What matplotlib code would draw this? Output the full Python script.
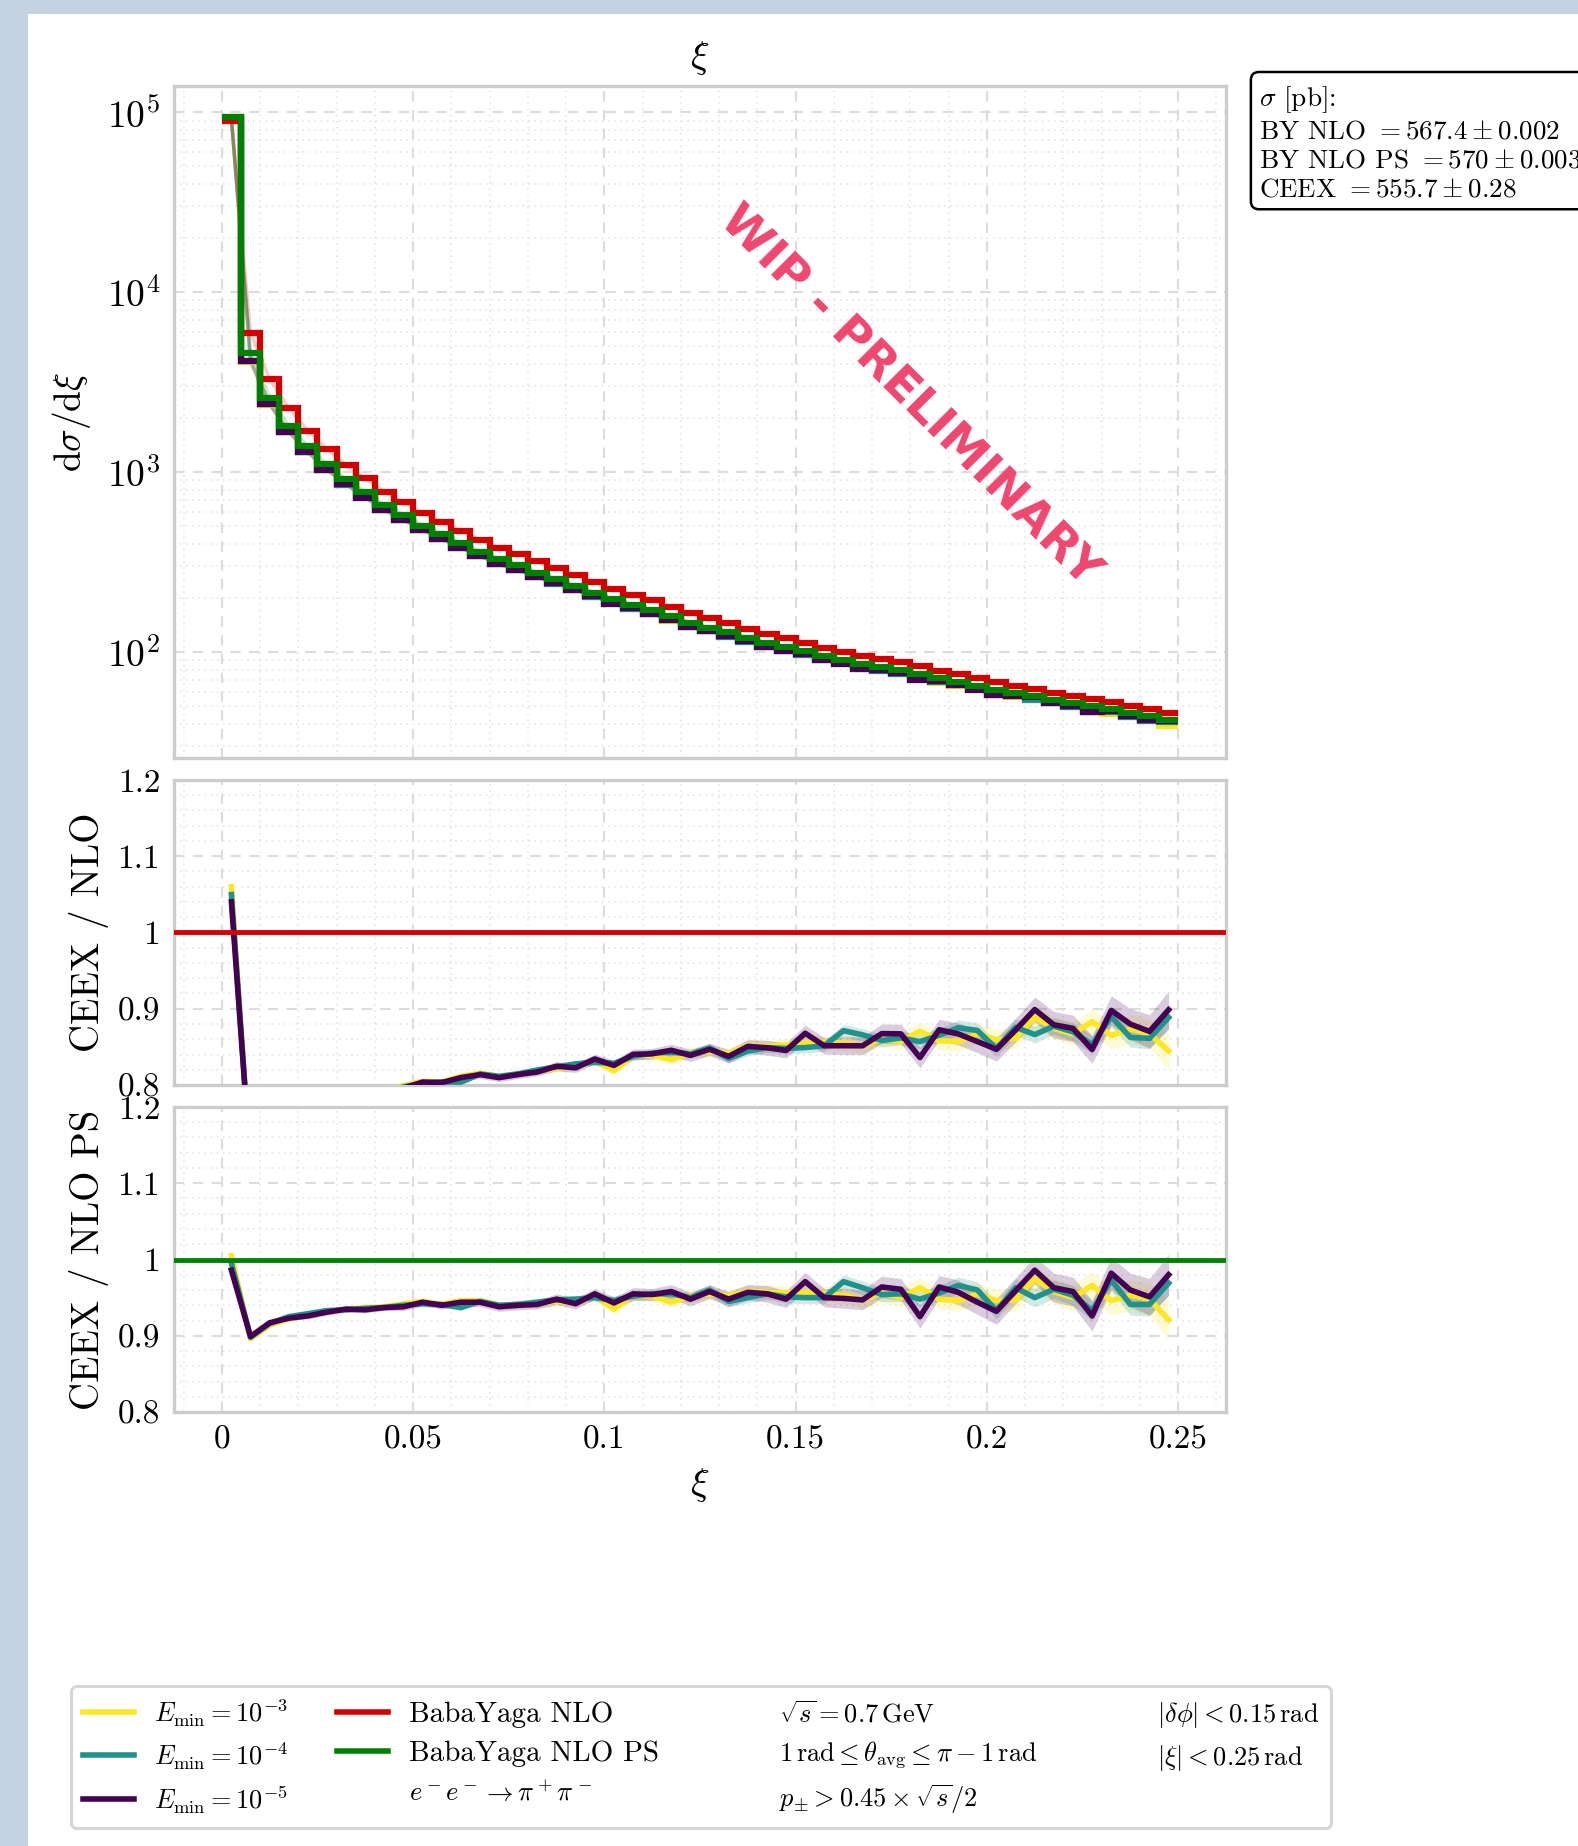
import numpy as np
import matplotlib
matplotlib.use("Agg")
import matplotlib.pyplot as plt
from matplotlib.lines import Line2D
from matplotlib.patches import Rectangle
from matplotlib.ticker import MultipleLocator, FuncFormatter, LogLocator, NullFormatter

plt.rcParams['font.family'] = 'serif'
plt.rcParams['font.serif'] = ['cmr10', 'DejaVu Serif']
plt.rcParams['mathtext.fontset'] = 'cm'
plt.rcParams['axes.formatter.use_mathtext'] = True

# ---------------------------------------------------------------- data
xi_edges = np.linspace(0.0, 0.25, 51)          # 50 bins of width 0.005
xi_centers = 0.5 * (xi_edges[:-1] + xi_edges[1:])

# dsigma/dxi [pb] for the BabaYaga references
dsig_nlo = [89100, 5950, 3300, 2270, 1703, 1343, 1099, 924, 779, 680,
            593, 529, 471, 420, 380, 350, 319, 292, 268, 245,
            225, 208, 194, 179, 165, 155, 146, 135, 126, 120,
            113, 106, 100.3, 95.1, 91.8, 88.0, 83.2, 79.0, 75.5, 71.6,
            67.8, 65.1, 62.3, 59.6, 57.2, 54.8, 52.5, 50.3, 48.3, 45.8]
dsig_nlo_ps = [94000, 4600, 2600, 1815, 1390, 1107, 914, 774, 657, 577,
               505, 452, 404, 362, 328, 303, 277, 254, 234, 214,
               197, 183, 171, 158, 146, 137, 129, 120, 112, 107,
               101, 95, 90, 85.5, 82.6, 79.4, 75.2, 71.5, 68.4, 65.0,
               61.6, 59.2, 56.8, 54.4, 52.2, 50.1, 48.0, 46.1, 44.2, 42.0]

# CEEX / BabaYaga NLO PS for the three soft-photon cut-offs
ratio_ps_e3 = [1.005, 0.896, 0.914, 0.922, 0.927, 0.932, 0.934, 0.937, 0.938, 0.942,
               0.945, 0.941, 0.946, 0.946, 0.940, 0.941, 0.943, 0.945, 0.944, 0.952,
               0.935, 0.953, 0.952, 0.944, 0.952, 0.955, 0.952, 0.958, 0.957, 0.956,
               0.957, 0.955, 0.953, 0.947, 0.956, 0.950, 0.963, 0.948, 0.946, 0.955,
               0.946, 0.947, 0.975, 0.958, 0.950, 0.966, 0.946, 0.953, 0.948, 0.921]
ratio_ps_e4 = [0.995, 0.898, 0.916, 0.925, 0.929, 0.933, 0.934, 0.936, 0.937, 0.940,
               0.942, 0.941, 0.937, 0.945, 0.940, 0.941, 0.944, 0.947, 0.948, 0.950,
               0.946, 0.952, 0.955, 0.955, 0.950, 0.960, 0.945, 0.950, 0.955, 0.951,
               0.950, 0.950, 0.971, 0.963, 0.954, 0.955, 0.948, 0.956, 0.966, 0.960,
               0.933, 0.963, 0.950, 0.961, 0.953, 0.933, 0.973, 0.941, 0.941, 0.969]
ratio_ps_e5 = [0.986, 0.899, 0.917, 0.923, 0.926, 0.931, 0.935, 0.934, 0.937, 0.938,
               0.944, 0.940, 0.944, 0.944, 0.938, 0.940, 0.941, 0.948, 0.942, 0.955,
               0.943, 0.955, 0.954, 0.958, 0.948, 0.958, 0.948, 0.957, 0.955, 0.948,
               0.971, 0.950, 0.949, 0.947, 0.964, 0.961, 0.925, 0.964, 0.957, 0.944,
               0.932, 0.959, 0.986, 0.963, 0.958, 0.926, 0.982, 0.960, 0.951, 0.980]

# statistical uncertainty of the ratios
err_e3 = [0.003, 0.003, 0.003, 0.003, 0.003, 0.004, 0.004, 0.004, 0.004, 0.004,
          0.005, 0.005, 0.005, 0.005, 0.005, 0.006, 0.006, 0.006, 0.006, 0.006,
          0.007, 0.007, 0.007, 0.007, 0.008, 0.008, 0.008, 0.009, 0.009, 0.009,
          0.010, 0.010, 0.011, 0.011, 0.012, 0.012, 0.013, 0.013, 0.014, 0.014,
          0.015, 0.015, 0.016, 0.016, 0.017, 0.018, 0.019, 0.020, 0.021, 0.026]
err_e4 = [0.002, 0.002, 0.002, 0.002, 0.003, 0.003, 0.003, 0.003, 0.003, 0.003,
          0.004, 0.004, 0.004, 0.004, 0.004, 0.005, 0.005, 0.005, 0.005, 0.005,
          0.006, 0.006, 0.006, 0.006, 0.006, 0.007, 0.007, 0.007, 0.007, 0.008,
          0.008, 0.008, 0.009, 0.009, 0.009, 0.010, 0.010, 0.010, 0.011, 0.011,
          0.011, 0.012, 0.012, 0.012, 0.013, 0.013, 0.014, 0.014, 0.015, 0.016]
err_e5 = [0.003, 0.003, 0.003, 0.003, 0.004, 0.004, 0.004, 0.004, 0.004, 0.005,
          0.005, 0.005, 0.005, 0.006, 0.006, 0.006, 0.006, 0.007, 0.007, 0.007,
          0.008, 0.008, 0.008, 0.009, 0.009, 0.009, 0.010, 0.010, 0.011, 0.011,
          0.012, 0.012, 0.013, 0.013, 0.014, 0.014, 0.015, 0.015, 0.016, 0.016,
          0.017, 0.017, 0.018, 0.019, 0.019, 0.020, 0.021, 0.022, 0.024, 0.027]

emin_labels = [r'$E_{\rm min} = 10^{-3}$', r'$E_{\rm min} = 10^{-4}$', r'$E_{\rm min} = 10^{-5}$']
emin_colors = ['#fde725', '#21918c', '#440154']
color_nlo = '#d20000'
color_nlo_ps = '#008000'

xsec_lines = [r'$\sigma$ [pb]:',
              r'BY NLO $= 567.4 \pm 0.002$',
              r'BY NLO PS $= 570 \pm 0.0039$',
              r'CEEX $= 555.7 \pm 0.28$']

cut_labels = [r'$\sqrt{s} = 0.7\,\mathrm{GeV}$',
              r'$1\,\mathrm{rad} \leq \theta_{\rm avg} \leq \pi - 1\,\mathrm{rad}$',
              r'$p_{\pm} > 0.45 \times \sqrt{s}/2$',
              r'$|\delta\phi| < 0.15\,\mathrm{rad}$',
              r'$|\xi| < 0.25\,\mathrm{rad}$']
process_label = r'$e^- e^- \to \pi^+ \pi^-$'

# ---------------------------------------------------------------- figure
W, H = 1578, 1846
fig = plt.figure(figsize=(W / 100, H / 100), dpi=100, facecolor='#c5d2e1')
fig.patches.append(Rectangle((28 / W, 0), 1, 1 - 14 / H, transform=fig.transFigure,
                             facecolor='white', edgecolor='none', zorder=-10))

left, width = 174 / W, (1226 - 174) / W
ax0 = fig.add_axes([left, 1 - 758 / H, width, 672 / H])
ax1 = fig.add_axes([left, 1 - 1085 / H, width, 305 / H], sharex=ax0)
ax2 = fig.add_axes([left, 1 - 1412 / H, width, 305 / H], sharex=ax0)

fmt = FuncFormatter(lambda v, p: '%g' % (round(v, 6) + 0.0))

for ax in (ax0, ax1, ax2):
    for sp in ax.spines.values():
        sp.set_color('#cccccc')
        sp.set_linewidth(2.4)
    ax.tick_params(which='both', length=0, labelsize=24, pad=10)
    ax.grid(which='major', ls=(0, (5, 4)), color='#dcdcdc', lw=1.5)
    ax.grid(which='minor', ls=(0, (1, 3)), color='#e2e2e2', lw=1.1)
    ax.set_axisbelow(True)
    ax.xaxis.set_major_locator(MultipleLocator(0.05))
    ax.xaxis.set_minor_locator(MultipleLocator(0.01))
    ax.xaxis.set_major_formatter(fmt)

ax0.set_xlim(-0.0125, 0.2625)

# ---- main panel: differential cross sections
ceex_hists = [np.asarray(r) * np.asarray(dsig_nlo_ps) for r in (ratio_ps_e3, ratio_ps_e4, ratio_ps_e5)]
for h, c in zip(ceex_hists, emin_colors):
    ax0.plot(xi_centers, h, color=c, alpha=0.25, lw=2.5, zorder=2)
    ax0.stairs(h, xi_edges, baseline=None, color=c, lw=4.5, zorder=3)
ax0.plot(xi_centers, dsig_nlo, color=color_nlo, alpha=0.2, lw=2.5, zorder=2)
ax0.plot(xi_centers, dsig_nlo_ps, color=color_nlo_ps, alpha=0.2, lw=2.5, zorder=2)
ax0.stairs(dsig_nlo, xi_edges, baseline=None, color=color_nlo, lw=4.5, zorder=4)
ax0.stairs(dsig_nlo_ps, xi_edges, baseline=None, color=color_nlo_ps, lw=4.5, zorder=5)

ax0.set_yscale('log')
ax0.set_ylim(25.8, 1.4e5)
ax0.yaxis.set_major_locator(LogLocator(base=10))
ax0.yaxis.set_minor_locator(LogLocator(base=10, subs=np.arange(2, 10)))
ax0.yaxis.set_minor_formatter(NullFormatter())
ax0.tick_params(labelbottom=False, labelsize=27)
ax0.set_title(r'$\xi$', fontsize=28, pad=13)
ax0.set_ylabel(r'$\mathrm{d}\sigma/\mathrm{d}\xi$', fontsize=27)
ax0.yaxis.set_label_coords(-0.077, 0.5)

ax0.text(0.699, 0.539, 'WIP - PRELIMINARY', transform=ax0.transAxes, rotation=-45,
         rotation_mode='anchor', ha='center', va='center', fontsize=34,
         fontweight='bold', family='DejaVu Sans', color='#ef476f', zorder=6)

# ---- ratio panels
ratios_ps = [np.asarray(r) for r in (ratio_ps_e3, ratio_ps_e4, ratio_ps_e5)]
errs = [np.asarray(e) for e in (err_e3, err_e4, err_e5)]
scale_nlo = np.asarray(dsig_nlo_ps) / np.asarray(dsig_nlo)

for ax, ref_color, factor, ylabel in ((ax1, color_nlo, scale_nlo, 'CEEX / NLO'),
                                       (ax2, color_nlo_ps, np.ones(50), 'CEEX / NLO PS')):
    for r, e, c in zip(ratios_ps, errs, emin_colors):
        ax.fill_between(xi_centers, (r - e) * factor, (r + e) * factor, color=c,
                        alpha=0.2, lw=0, zorder=2)
    for r, c in zip(ratios_ps, emin_colors):
        ax.plot(xi_centers, r * factor, color=c, lw=4, zorder=3)
    ax.axhline(1.0, color=ref_color, lw=3.5, zorder=4)
    ax.set_ylim(0.8, 1.2)
    ax.yaxis.set_major_locator(MultipleLocator(0.1))
    ax.yaxis.set_minor_locator(MultipleLocator(0.02))
    ax.yaxis.set_major_formatter(fmt)
    ax.set_ylabel(ylabel, fontsize=28)
    ax.yaxis.set_label_coords(-0.062, 0.5)

ax1.tick_params(labelbottom=False)
ax2.set_xlabel(r'$\xi$', fontsize=28, labelpad=8)

# ---- integrated cross sections
fig.text(1259 / W, 1 - 84 / H, '\n'.join(xsec_lines), fontsize=19.5, va='top', ha='left',
         linespacing=1.27,
         bbox=dict(boxstyle='round,pad=0.3', fc='white', ec='black', lw=1.8))

# ---- legend
handles = [Line2D([], [], color=c, lw=4) for c in emin_colors]
handles += [Line2D([], [], color=color_nlo, lw=4), Line2D([], [], color=color_nlo_ps, lw=4)]
blank = [Line2D([], [], color='none') for _ in range(6)]
handles += blank
labels = emin_labels + ['BabaYaga NLO', 'BabaYaga NLO PS', process_label] + cut_labels
leg = fig.legend(handles, labels, ncol=4, loc='lower left',
                 bbox_to_anchor=(71 / W, 18 / H, 1260 / W, 136 / H), mode='expand',
                 borderaxespad=0.0,
                 fontsize=21, frameon=True, fancybox=True, edgecolor='#cccccc',
                 handlelength=1.75, handletextpad=0.7, labelspacing=0.42, borderpad=0.4)
leg.get_frame().set_linewidth(2.2)
for txt in leg.get_texts():
    if txt.get_text().startswith('$'):
        txt.set_fontsize(19)

fig.savefig('out.png', dpi=100, facecolor=fig.get_facecolor())
